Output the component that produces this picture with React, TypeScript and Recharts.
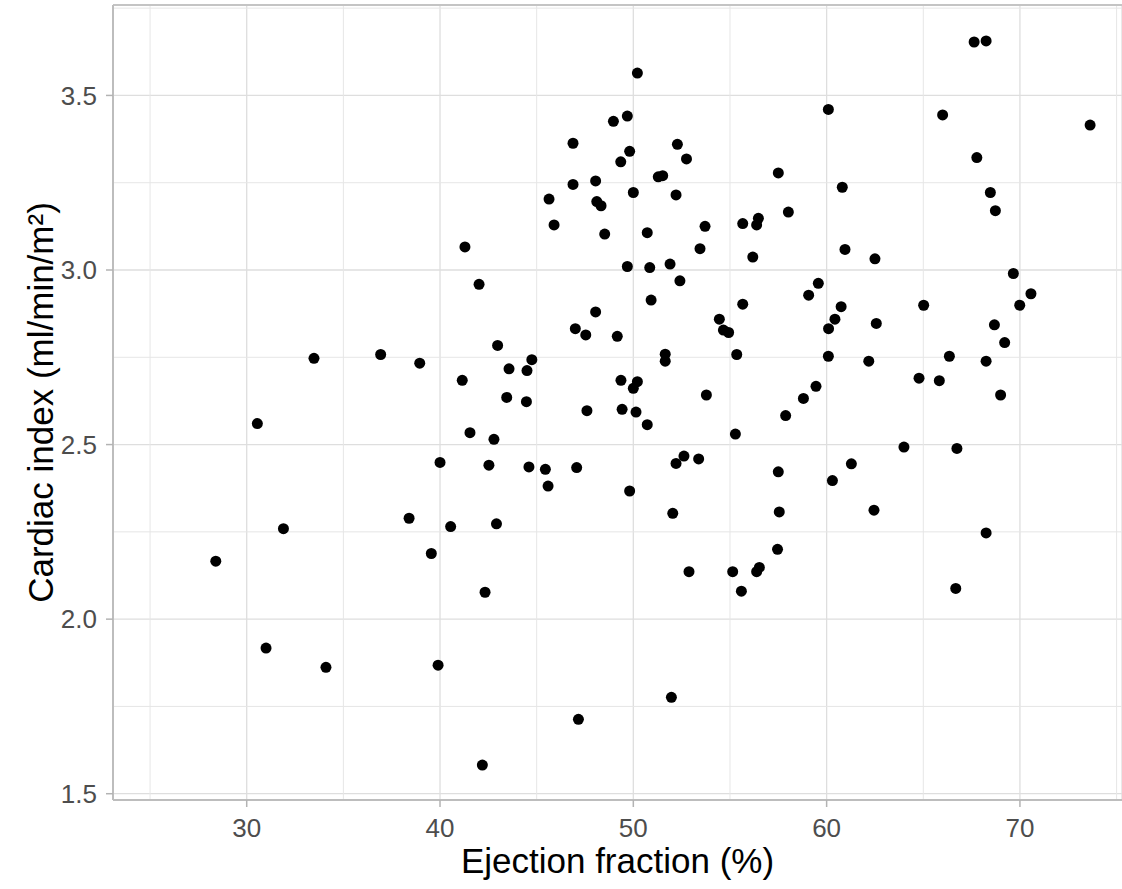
import React from 'react';
import { ScatterChart, Scatter, XAxis, YAxis, CartesianGrid, ReferenceLine, Label } from 'recharts';

const FONT = '"Liberation Sans", Arial, Helvetica, sans-serif';

// Ejection fraction (%) – x values
const ejectionFraction = [
  33.48, 36.93, 38.95,
  50.21, 48.97, 49.69, 46.88, 52.28, 49.81, 49.35, 52.75, 51.29, 51.52, 57.5, 46.88, 48.05, 50.0, 52.21, 45.64,
  48.11, 48.33, 45.9, 48.52, 50.72, 53.71, 55.66, 56.47, 56.38, 41.29, 53.45, 56.18, 49.69, 50.85, 51.9, 52.41,
  42.02, 50.92, 55.66, 48.05, 54.45, 54.66, 54.93, 47.0, 47.54, 49.17, 42.98, 51.65, 51.65, 55.35, 44.75, 44.5,
  43.57, 41.15, 49.36, 50.21, 50.0, 43.45, 44.47, 53.78,
  67.63, 68.25, 60.09, 66.0, 73.63, 67.77, 60.81, 68.47, 68.73, 58.02, 60.95, 62.5, 69.66, 59.57, 59.07, 70.57,
  60.75, 65.02, 69.99, 60.43, 60.1, 62.57, 68.68, 69.21, 60.09, 62.18, 66.35, 68.25, 64.78, 65.83, 59.45, 58.8, 69.0,
  30.55, 40.0, 38.4, 31.9, 40.55, 39.55, 28.4, 31.0, 34.1, 39.9,
  47.6, 49.42, 50.14, 50.72, 41.55, 42.79, 55.28, 42.53, 44.6, 45.45, 47.07, 45.59, 49.81, 52.21, 52.62, 53.38,
  57.5, 52.04, 57.55, 42.92, 57.46, 52.88, 55.14, 56.38, 56.52, 55.59, 42.33, 51.97, 47.16, 42.19,
  57.88, 64.0, 66.74, 61.28, 60.3, 62.45, 68.25, 66.68,
];

// Cardiac index (ml/min/m²) – y values
const cardiacIndex = [
  2.747, 2.758, 2.733,
  3.564, 3.426, 3.441, 3.363, 3.36, 3.34, 3.31, 3.318, 3.267, 3.27, 3.278, 3.245, 3.255, 3.222, 3.215, 3.203,
  3.196, 3.184, 3.129, 3.103, 3.107, 3.125, 3.133, 3.148, 3.129, 3.066, 3.061, 3.037, 3.01, 3.007, 3.017, 2.969,
  2.959, 2.914, 2.902, 2.88, 2.859, 2.828, 2.821, 2.832, 2.814, 2.81, 2.784, 2.759, 2.739, 2.758, 2.743, 2.712,
  2.717, 2.684, 2.684, 2.68, 2.661, 2.635, 2.623, 2.642,
  3.653, 3.656, 3.46, 3.444, 3.415, 3.322, 3.237, 3.222, 3.17, 3.166, 3.059, 3.032, 2.99, 2.962, 2.928, 2.932,
  2.895, 2.899, 2.899, 2.859, 2.832, 2.847, 2.843, 2.792, 2.753, 2.739, 2.753, 2.739, 2.69, 2.683, 2.667, 2.632, 2.642,
  2.56, 2.449, 2.289, 2.259, 2.265, 2.188, 2.166, 1.917, 1.862, 1.868,
  2.597, 2.601, 2.593, 2.557, 2.534, 2.515, 2.53, 2.441, 2.436, 2.429, 2.434, 2.381, 2.367, 2.446, 2.467, 2.459,
  2.422, 2.303, 2.307, 2.273, 2.2, 2.136, 2.136, 2.136, 2.148, 2.08, 2.077, 1.776, 1.713, 1.582,
  2.583, 2.493, 2.489, 2.445, 2.397, 2.312, 2.247, 2.088,
];

const xTicks = [30, 40, 50, 60, 70];
const yTicks = [1.5, 2.0, 2.5, 3.0, 3.5];
const xMinor = [25, 35, 45, 55, 65, 75];
const yMinor = [1.75, 2.25, 2.75, 3.25, 3.75];
const xDomain: [number, number] = [23.083, 75.28];
const yDomain: [number, number] = [1.482, 3.759];

const data = ejectionFraction.map((x, i) => ({ x, y: cardiacIndex[i] }));

const Dot = (props: any) => <circle cx={props.cx} cy={props.cy} r={5.5} fill="#000000" />;

const XTitle = () => (
  <text x={617.5} y={873} textAnchor="middle" fontSize={35} fill="#000000" fontFamily={FONT}>
    Ejection fraction (%)
  </text>
);

const YTitle = () => (
  <text
    x={53}
    y={402.5}
    transform="rotate(-90, 53, 402.5)"
    textAnchor="middle"
    fontSize={35}
    fill="#000000"
    fontFamily={FONT}
  >
    Cardiac index (ml/min/m²)
  </text>
);

export default function App() {
  const tickStyle = { fill: '#4d4d4d', fontSize: 26, fontFamily: FONT };
  return (
    <div style={{ position: 'absolute', left: 0, top: 0, width: 1122, height: 889, background: '#ffffff' }}>
      <ScatterChart width={1122} height={889} margin={{ top: 5, right: 0, bottom: 0, left: 0 }}>
        <CartesianGrid stroke="#dedede" strokeWidth={1.3} />
        {xMinor.map((v) => (
          <ReferenceLine key={'xm' + v} x={v} stroke="#e6e6e6" strokeWidth={1} />
        ))}
        {yMinor.map((v) => (
          <ReferenceLine key={'ym' + v} y={v} stroke="#e6e6e6" strokeWidth={1} />
        ))}
        <ReferenceLine y={yDomain[1]} stroke="#c4c4c4" strokeWidth={2} />
        <XAxis
          type="number"
          dataKey="x"
          domain={xDomain}
          ticks={xTicks}
          allowDataOverflow
          height={89}
          tick={tickStyle}
          tickSize={7}
          tickMargin={12}
          tickLine={{ stroke: '#b3b3b3', strokeWidth: 1.5 }}
          axisLine={{ stroke: '#bdbdbd', strokeWidth: 2 }}
        >
          <Label content={XTitle} />
        </XAxis>
        <YAxis
          type="number"
          dataKey="y"
          domain={yDomain}
          ticks={yTicks}
          allowDataOverflow
          width={113}
          tick={tickStyle}
          tickFormatter={(v: number) => v.toFixed(1)}
          tickSize={7}
          tickMargin={9}
          tickLine={{ stroke: '#b3b3b3', strokeWidth: 1.5 }}
          axisLine={{ stroke: '#bdbdbd', strokeWidth: 2 }}
        >
          <Label content={YTitle} />
        </YAxis>
        <Scatter data={data} shape={Dot} isAnimationActive={false} />
      </ScatterChart>
    </div>
  );
}
